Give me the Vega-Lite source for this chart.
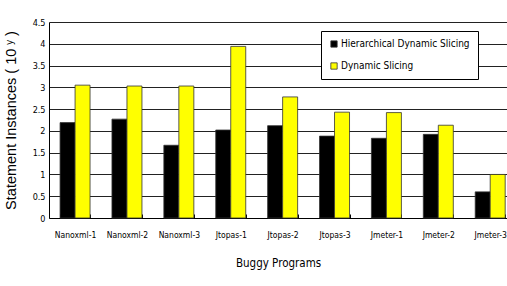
{
  "$schema": "https://vega.github.io/schema/vega-lite/v6.json",
  "width": 458,
  "height": 196,
  "autosize": {"type": "none"},
  "padding": {"left": 49, "top": 22, "right": 0, "bottom": 68},
  "background": "white",
  "config": {
    "font": "DejaVu Sans Condensed, Liberation Sans",
    "view": {"stroke": null}
  },
  "data": {
    "values": [
      {"program": "Nanoxml-1", "method": "Hierarchical Dynamic Slicing", "value": 2.19},
      {"program": "Nanoxml-1", "method": "Dynamic Slicing", "value": 3.05},
      {"program": "Nanoxml-2", "method": "Hierarchical Dynamic Slicing", "value": 2.27},
      {"program": "Nanoxml-2", "method": "Dynamic Slicing", "value": 3.03},
      {"program": "Nanoxml-3", "method": "Hierarchical Dynamic Slicing", "value": 1.67},
      {"program": "Nanoxml-3", "method": "Dynamic Slicing", "value": 3.03},
      {"program": "Jtopas-1", "method": "Hierarchical Dynamic Slicing", "value": 2.02},
      {"program": "Jtopas-1", "method": "Dynamic Slicing", "value": 3.94},
      {"program": "Jtopas-2", "method": "Hierarchical Dynamic Slicing", "value": 2.12},
      {"program": "Jtopas-2", "method": "Dynamic Slicing", "value": 2.78},
      {"program": "Jtopas-3", "method": "Hierarchical Dynamic Slicing", "value": 1.88},
      {"program": "Jtopas-3", "method": "Dynamic Slicing", "value": 2.43},
      {"program": "Jmeter-1", "method": "Hierarchical Dynamic Slicing", "value": 1.83},
      {"program": "Jmeter-1", "method": "Dynamic Slicing", "value": 2.42},
      {"program": "Jmeter-2", "method": "Hierarchical Dynamic Slicing", "value": 1.92},
      {"program": "Jmeter-2", "method": "Dynamic Slicing", "value": 2.13},
      {"program": "Jmeter-3", "method": "Hierarchical Dynamic Slicing", "value": 0.6},
      {"program": "Jmeter-3", "method": "Dynamic Slicing", "value": 1.0}
    ]
  },
  "mark": {"type": "bar", "stroke": "#333", "strokeWidth": 0.8},
  "encoding": {
    "x": {
      "field": "program",
      "type": "nominal",
      "sort": null,
      "scale": {"paddingInner": 0.422, "paddingOuter": 0.124, "align": 0.86},
      "axis": {
        "title": "Buggy Programs",
        "titleFontSize": 11.5,
        "titleFontWeight": "normal",
        "titleColor": "#000",
        "titlePadding": 19,
        "labelAngle": 0,
        "labelFontSize": 8.5,
        "labelColor": "#000",
        "labelPadding": 16,
        "tickBand": "extent",
        "tickSize": -4,
        "tickColor": "#000",
        "domainColor": "#000",
        "grid": false
      }
    },
    "xOffset": {
      "field": "method",
      "type": "nominal",
      "sort": ["Hierarchical Dynamic Slicing", "Dynamic Slicing"],
      "scale": {"paddingInner": 0, "paddingOuter": 0}
    },
    "y": {
      "field": "value",
      "type": "quantitative",
      "scale": {"domain": [0, 4.5], "nice": false},
      "axis": {
        "title": "Statement Instances ( 10 ʸ )",
        "titleFont": "Liberation Sans",
        "titleFontSize": 14.5,
        "titleFontWeight": "normal",
        "titleColor": "#000",
        "titlePadding": 14,
        "values": [0, 0.5, 1, 1.5, 2, 2.5, 3, 3.5, 4, 4.5],
        "format": "~g",
        "labelFontSize": 9,
        "labelColor": "#000",
        "labelPadding": 4,
        "tickSize": 0,
        "domainColor": "#000",
        "gridColor": "#222",
        "gridOpacity": 1,
        "gridWidth": 1
      }
    },
    "color": {
      "field": "method",
      "type": "nominal",
      "sort": ["Hierarchical Dynamic Slicing", "Dynamic Slicing"],
      "scale": {"domain": ["Hierarchical Dynamic Slicing", "Dynamic Slicing"], "range": ["#000000", "#ffff00"]},
      "legend": {
        "title": null,
        "orient": "none",
        "legendX": 272,
        "legendY": 9,
        "fillColor": "white",
        "strokeColor": "#000",
        "padding": 8,
        "symbolType": "square",
        "symbolSize": 40,
        "symbolStrokeColor": "#333",
        "symbolStrokeWidth": 0.8,
        "labelFontSize": 10,
        "labelColor": "#000",
        "labelOffset": 2,
        "rowPadding": 12,
        "labelLimit": 300
      }
    }
  }
}
